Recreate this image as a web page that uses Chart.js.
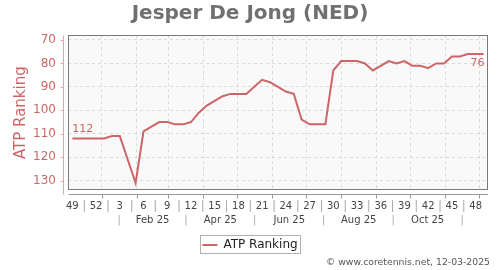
<!DOCTYPE html>
<html>
<head>
<meta charset="utf-8">
<title>Jesper De Jong - ATP Ranking</title>
<script src="https://cdn.jsdelivr.net/npm/chart.js@4.4.1/dist/chart.umd.min.js"></script>
<style>
  html, body { margin: 0; padding: 0; background: #ffffff; }
</style>
</head>
<body>
<canvas id="rankChart" width="500" height="270"></canvas>
<script>
// ranking ATP semana a semana (semana 49/2024 -> semana 49/2025)
const weekLabels = ['49', '50', '51', '52', '1', '2', '3', '4', '5', '6', '7', '8', '9', '10',
  '11', '12', '13', '14', '15', '16', '17', '18', '19', '20', '21', '22', '23', '24', '25',
  '26', '27', '28', '29', '30', '31', '32', '33', '34', '35', '36', '37', '38', '39', '40',
  '41', '42', '43', '44', '45', '46', '47', '48', '49'];
const rankings = [112, 112, 112, 112, 112, 111, 111, 121, 131, 109, 107, 105, 105, 106,
  106, 105, 101, 98, 96, 94, 93, 93, 93, 90, 87, 88, 90, 92, 93, 104, 106, 106, 106, 83,
  79, 79, 79, 80, 83, 81, 79, 80, 79, 81, 81, 82, 80, 80, 77, 77, 76, 76, 76];
const monthLabels = ['Feb 25', 'Apr 25', 'Jun 25', 'Aug 25', 'Oct 25'];
const yTicks = [70, 80, 90, 100, 110, 120, 130];

const playerName = 'Jesper De Jong (NED)';
const seriesName = 'ATP Ranking';
const footerText = '\u00A9 www.coretennis.net, 12-03-2025';

const FONT = 'DejaVu Sans';
const RED = '#cc6666';
const X_MIN = -0.55, X_MAX = 52.5;

// posicion (en semanas) de una fecha respecto al primer punto
const firstPoint = Date.UTC(2024, 11, 6);
const weekPos = (y, m, d) => (Date.UTC(y, m, d) - firstPoint) / (7 * 864e5);

// lineas verticales de la rejilla: inicio de cada mes de 2025
const monthStarts = [];
for (let m = 0; m < 12; m++) monthStarts.push(weekPos(2025, m, 1));

// fila de meses: separador | etiqueta | separador ...
const monthRow = [];
for (let k = 0; k < 6; k++) {
  monthRow.push((monthStarts[2 * k] + monthStarts[2 * k + 1]) / 2);
  if (k < 5) monthRow.push((monthStarts[2 * k + 1] + monthStarts[2 * k + 2]) / 2);
}

// fila de semanas: numero cada 3 semanas, separador entre medias
const weekRow = [];
for (let v = 0; v <= 51; v += 1.5) weekRow.push(v);

// fondo, marco, ejes desplazados, etiquetas de inicio/fin, caja de leyenda y pie
const decorPlugin = {
  id: 'decor',
  beforeDraw(chart) {
    const { ctx, chartArea: a } = chart;
    ctx.save();
    ctx.fillStyle = '#f9f9f9';
    ctx.fillRect(a.left, a.top, a.right - a.left, a.bottom - a.top);
    ctx.restore();
  },
  afterDraw(chart) {
    const { ctx, chartArea: a } = chart;
    const L = Math.round(a.left) + 0.5, R = Math.round(a.right) - 0.5;
    const T = Math.round(a.top) + 0.5, B = Math.round(a.bottom) - 0.5;
    ctx.save();

    // marco del area de dibujo
    ctx.strokeStyle = '#7a7a7a';
    ctx.lineWidth = 1;
    ctx.strokeRect(L, T, R - L, B - T);

    // eje Y (rosa) separado del marco
    const yScale = chart.scales.y;
    ctx.strokeStyle = '#e2a8a8';
    ctx.beginPath();
    ctx.moveTo(L - 5, T);
    ctx.lineTo(L - 5, B + 5);
    yScale.ticks.forEach(t => {
      const py = Math.round(yScale.getPixelForValue(t.value)) + 0.5;
      ctx.moveTo(L - 8, py);
      ctx.lineTo(L - 5, py);
    });
    ctx.stroke();

    // eje X (gris) separado del marco
    const gScale = chart.scales.xg;
    ctx.strokeStyle = '#9a9a9a';
    ctx.beginPath();
    ctx.moveTo(L, B + 5);
    ctx.lineTo(R + 0.5, B + 5);
    gScale.ticks.forEach(t => {
      const px = Math.round(gScale.getPixelForValue(t.value)) + 0.5;
      ctx.moveTo(px, B + 5);
      ctx.lineTo(px, B + 9);
    });
    ctx.stroke();

    // valores primero y ultimo
    const pts = chart.getDatasetMeta(0).data;
    const first = pts[0], last = pts[pts.length - 1];
    ctx.fillStyle = RED;
    ctx.font = '11px "' + FONT + '"';
    ctx.textBaseline = 'middle';
    ctx.textAlign = 'left';
    ctx.fillText(String(rankings[0]), first.x, first.y - 9);
    ctx.textAlign = 'right';
    ctx.fillText(String(rankings[rankings.length - 1]), last.x + 1, last.y + 9.5);

    // caja alrededor de la leyenda
    const hb = chart.legend.legendHitBoxes[0];
    if (hb) {
      ctx.strokeStyle = '#b0b0b0';
      ctx.strokeRect(Math.round(hb.left - 2.5) + 0.5, Math.round(hb.top - 4) + 0.5,
        Math.round(hb.width + 5), Math.round(hb.height + 6));
    }

    // pie
    ctx.fillStyle = '#555555';
    ctx.font = '9.3px "' + FONT + '"';
    ctx.textAlign = 'right';
    ctx.fillText(footerText, 490, 263);
    ctx.restore();
  }
};

Chart.defaults.font.family = FONT;

const ctx = document.getElementById('rankChart').getContext('2d');
new Chart(ctx, {
  type: 'line',
  data: {
    datasets: [{
      label: seriesName,
      data: rankings.map((r, i) => ({ x: i, y: r })),
      xAxisID: 'x',
      yAxisID: 'y',
      borderColor: RED,
      backgroundColor: RED,
      borderWidth: 2,
      pointRadius: 0,
      pointHoverRadius: 0,
      tension: 0,
      fill: false
    }]
  },
  options: {
    responsive: false,
    animation: false,
    layout: { padding: { top: 0, left: 0, right: 0, bottom: 9 } },
    plugins: {
      title: {
        display: true,
        text: playerName,
        color: '#707070',
        font: { family: FONT, size: 20, weight: 'bold' },
        padding: { top: 1.5, bottom: 9.8 }
      },
      legend: {
        position: 'bottom',
        labels: {
          usePointStyle: true,
          pointStyle: 'line',
          pointStyleWidth: 15,
          padding: 4,
          color: '#222222',
          font: { family: FONT, size: 12 }
        }
      },
      tooltip: { enabled: false }
    },
    scales: {
      x: {
        type: 'linear', position: 'bottom', weight: 1,
        min: X_MIN, max: X_MAX, bounds: 'data',
        afterBuildTicks: s => { s.ticks = weekRow.map(v => ({ value: v })); },
        afterFit: s => { s.height = 22; },
        grid: { display: false, drawTicks: false },
        border: { display: false },
        ticks: {
          autoSkip: false, maxRotation: 0, minRotation: 0, padding: 10,
          font: c => ({ family: FONT, size: c.index % 2 ? 12 : 10 }),
          color: c => c.index % 2 ? '#aaaaaa' : '#444444',
          callback: (v, i) => i % 2 ? '|' : weekLabels[v]
        }
      },
      xm: {
        type: 'linear', position: 'bottom', weight: 2,
        min: X_MIN, max: X_MAX, bounds: 'data',
        afterBuildTicks: s => { s.ticks = monthRow.map(v => ({ value: v })); },
        afterFit: s => { s.height = 23; },
        grid: { display: false, drawTicks: false },
        border: { display: false },
        ticks: {
          autoSkip: false, maxRotation: 0, minRotation: 0, padding: 2.5,
          font: { family: FONT, size: 10 },
          color: c => c.index % 2 ? '#444444' : '#aaaaaa',
          callback: (v, i) => i % 2 ? monthLabels[(i - 1) / 2] : '|'
        }
      },
      xg: {
        type: 'linear', position: 'bottom', weight: 0,
        min: X_MIN, max: X_MAX, bounds: 'data',
        afterBuildTicks: s => { s.ticks = monthStarts.map(v => ({ value: v })); },
        afterFit: s => { s.height = 0; },
        grid: { color: '#dadada', drawTicks: false },
        border: { display: false, dash: [3, 3] },
        ticks: { display: false }
      },
      y: {
        type: 'linear', position: 'left', reverse: true,
        min: 68, max: 134, bounds: 'data',
        afterBuildTicks: s => { s.ticks = yTicks.map(v => ({ value: v })); },
        afterFit: s => { s.width = 68; },
        grid: { color: '#dadada', drawTicks: false },
        border: { display: false, dash: [3, 3] },
        ticks: { padding: 12, color: RED, font: { family: FONT, size: 12 } },
        title: {
          display: true, text: seriesName, color: RED,
          font: { family: FONT, size: 15 },
          padding: { top: 12.5, bottom: 0 }
        }
      },
      yr: {
        type: 'linear', position: 'right', display: true,
        grid: { display: false, drawTicks: false },
        border: { display: false },
        ticks: { display: false },
        afterFit: s => { s.width = 12.5; }
      }
    }
  },
  plugins: [decorPlugin]
});
</script>
</body>
</html>
